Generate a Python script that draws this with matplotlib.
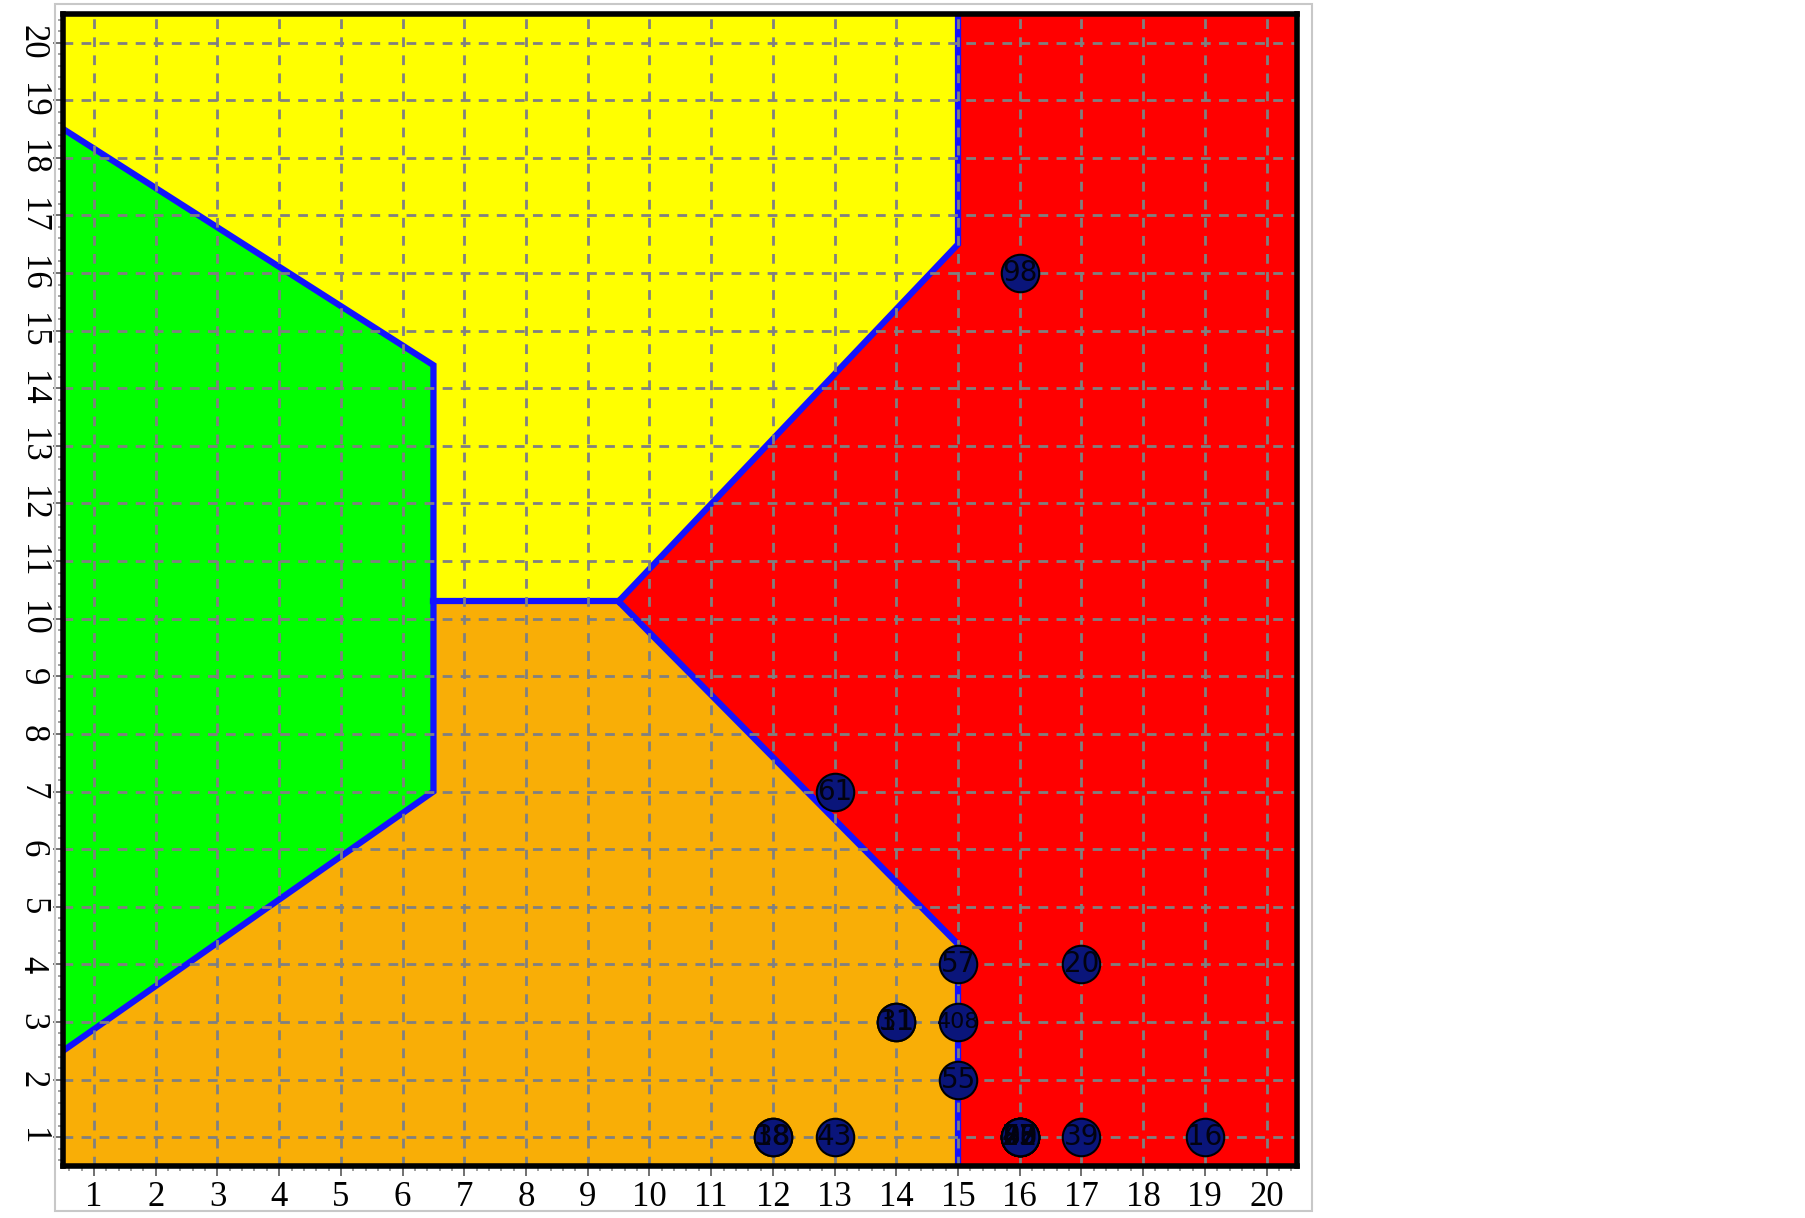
import matplotlib
matplotlib.use('Agg')
import matplotlib.pyplot as plt
from matplotlib.patches import Rectangle

# region polygons (data coords)
green_x = [0.5, 6.5, 6.5, 0.5]
green_y = [18.5, 14.4, 7.0, 2.5]
yellow_x = [0.5, 15.0, 15.0, 9.5, 6.5, 6.5, 0.5]
yellow_y = [20.5, 20.5, 16.5, 10.3, 10.3, 14.4, 18.5]
orange_x = [0.5, 15.0, 15.0, 9.5, 6.5, 6.5, 0.5]
orange_y = [0.5, 0.5, 4.35, 10.3, 10.3, 7.0, 2.5]
red_x = [15.0, 20.5, 20.5, 15.0, 15.0, 9.5, 15.0]
red_y = [20.5, 20.5, 0.5, 0.5, 4.35, 10.3, 16.5]

# boundary polylines
bound_lines = [
    ([0.5, 6.5, 6.5, 0.5], [18.5, 14.4, 7.0, 2.5]),
    ([6.5, 9.5], [10.3, 10.3]),
    ([9.5, 15.0, 15.0], [10.3, 16.5, 20.5]),
    ([9.5, 15.0, 15.0], [10.3, 4.35, 0.5]),
]

# points and their labels (overlapping labels share a position)
pt_x = [16, 13, 15, 17, 14, 14, 15, 15, 12, 12, 13, 16, 16, 16, 16, 16, 16, 17, 19]
pt_y = [16, 7, 4, 4, 3, 3, 3, 2, 1, 1, 1, 1, 1, 1, 1, 1, 1, 1, 1]
pt_lab = ['98', '61', '57', '20', '11', '31', '408', '55', '18', '38',
          '43', '22', '47', '73', '85', '00', '88', '39', '16']

ticks = list(range(1, 21))

fig = plt.figure(figsize=(18.05, 12.18), dpi=100)
fig.patches.append(Rectangle((55 / 1805, 1 - 1211 / 1218), 1257 / 1805, 1207 / 1218,
                             transform=fig.transFigure, fill=False,
                             edgecolor='#c8c8c8', lw=1.5))
ax = fig.add_axes([0.035, 0.0427, 0.6838, 0.946])

ax.fill(green_x, green_y, color='#00ff00', lw=0, zorder=1)
ax.fill(yellow_x, yellow_y, color='#ffff00', lw=0, zorder=1)
ax.fill(orange_x, orange_y, color='#f9ae06', lw=0, zorder=1)
ax.fill(red_x, red_y, color='#ff0000', lw=0, zorder=1)

for bx, by in bound_lines:
    ax.plot(bx, by, color='#1212ff', lw=4.5, solid_joinstyle='miter', zorder=2)

ax.set_xlim(0.5, 20.5)
ax.set_ylim(0.5, 20.5)
ax.set_xticks(ticks)
ax.set_yticks(ticks)
ax.set_xticks([t / 5 for t in range(3, 103)], minor=True)
ax.set_yticks([t / 5 for t in range(3, 103)], minor=True)
ax.grid(True, which='major', color='#808080', linestyle=(0, (3.5, 3)), lw=2, zorder=3)
ax.set_axisbelow(False)

ax.plot(pt_x, pt_y, 'o', color='#0a157a', markersize=27,
        markeredgecolor='black', markeredgewidth=1.5, zorder=4)
for x, y, s in zip(pt_x, pt_y, pt_lab):
    ax.text(x, y, s, ha='center', va='center', fontsize=20 if len(s) < 3 else 16,
            color='#020210', family='Liberation Sans Narrow', zorder=5)

for sp in ax.spines.values():
    sp.set_linewidth(4)
    sp.set_color('black')
    sp.set_zorder(6)

ax.tick_params(which='major', direction='out', length=7, width=1.4, color='#707070')
ax.tick_params(which='minor', direction='out', length=3.5, width=1.2, color='#909090')
ax.set_xticklabels([str(t) for t in ticks], fontsize=25, family='Liberation Serif')
ax.set_yticklabels([str(t) for t in ticks], fontsize=25, family='Liberation Serif',
                   rotation=-90, va='center')

plt.savefig('out.png', dpi=100)
